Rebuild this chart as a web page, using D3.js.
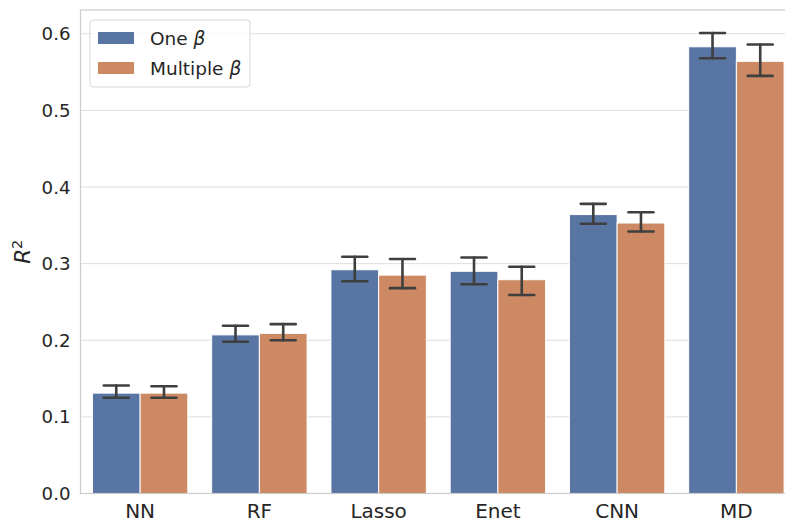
<!DOCTYPE html>
<html>
<head>
<meta charset="utf-8">
<script src="https://cdn.jsdelivr.net/npm/d3@7"></script>
<style>
  html, body { margin: 0; padding: 0; background: #fff; overflow: hidden; }
  svg { display: block; }
  text { font-family: "DejaVu Sans", sans-serif; fill: #262626; }
</style>
</head>
<body>
<svg width="785" height="525"></svg>
<script>
const categories = ["NN", "RF", "Lasso", "Enet", "CNN", "MD"];
const seriesNames = ["One", "Multiple"];
const oneBeta = [0.131, 0.207, 0.292, 0.290, 0.364, 0.583];
const oneLow = [0.125, 0.198, 0.277, 0.273, 0.352, 0.568];
const oneHigh = [0.141, 0.219, 0.309, 0.308, 0.378, 0.601];
const multiBeta = [0.131, 0.209, 0.285, 0.279, 0.353, 0.564];
const multiLow = [0.125, 0.200, 0.268, 0.259, 0.342, 0.545];
const multiHigh = [0.140, 0.221, 0.306, 0.296, 0.367, 0.586];
const yTicks = [0, 0.1, 0.2, 0.3, 0.4, 0.5, 0.6];
const colors = ["#5875a4", "#cc8963"];

// the original figure is cropped on the right, so the axes run past the page edge
const plot = {left: 80.5, right: 796, top: 10, bottom: 493.5};

const svg = d3.select("svg");

const x = d3.scaleBand().domain(categories)
  .range([plot.left, plot.right]).paddingInner(0.2).paddingOuter(0.1);
const xs = d3.scaleBand().domain(seriesNames).range([0, x.bandwidth()]);
const y = d3.scaleLinear().domain([0, 0.631]).range([plot.bottom, plot.top]);

// grid
svg.append("g").selectAll("line").data(yTicks).join("line")
  .attr("x1", plot.left).attr("x2", plot.right)
  .attr("y1", d => y(d)).attr("y2", d => y(d))
  .attr("stroke", "#dedede").attr("stroke-width", 1);

const rows = categories.map((c, i) => [
  {cat: c, s: "One", v: oneBeta[i], lo: oneLow[i], hi: oneHigh[i]},
  {cat: c, s: "Multiple", v: multiBeta[i], lo: multiLow[i], hi: multiHigh[i]}
]).flat();

svg.append("g").selectAll("rect").data(rows).join("rect")
  .attr("x", d => x(d.cat) + xs(d.s))
  .attr("width", xs.bandwidth())
  .attr("y", d => y(d.v))
  .attr("height", d => y(0) - y(d.v))
  .attr("fill", d => colors[seriesNames.indexOf(d.s)])
  .attr("stroke", "#fff").attr("stroke-width", 1);

// error bars
const eb = svg.append("g").attr("stroke", "#3f3f3f").attr("stroke-width", 2.6)
  .attr("stroke-linecap", "round");
rows.forEach(d => {
  const cx = x(d.cat) + xs(d.s) + xs.bandwidth() / 2;
  eb.append("line").attr("x1", cx).attr("x2", cx).attr("y1", y(d.lo)).attr("y2", y(d.hi));
  [d.lo, d.hi].forEach(v => {
    eb.append("line").attr("x1", cx - 12.5).attr("x2", cx + 12.5).attr("y1", y(v)).attr("y2", y(v));
  });
});

// frame
svg.append("rect")
  .attr("x", plot.left).attr("y", plot.top)
  .attr("width", plot.right - plot.left)
  .attr("height", plot.bottom - plot.top)
  .attr("fill", "none").attr("stroke", "#cccccc").attr("stroke-width", 1.2);

// axes labels
svg.append("g").selectAll("text").data(yTicks).join("text")
  .attr("x", plot.left - 10).attr("y", d => y(d))
  .attr("dy", "0.36em").attr("text-anchor", "end")
  .attr("font-size", 18.2)
  .text(d => d3.format(".1f")(d));

svg.append("g").selectAll("text").data(categories).join("text")
  .attr("x", d => x(d) + x.bandwidth() / 2).attr("y", plot.bottom + 24)
  .attr("text-anchor", "middle").attr("font-size", 20)
  .text(d => d);

const yl = svg.append("text")
  .attr("transform", "translate(30," + ((plot.top + plot.bottom) / 2) + ") rotate(-90)")
  .attr("text-anchor", "middle").attr("font-size", 21.5);
yl.append("tspan").attr("font-style", "italic").text("R");
yl.append("tspan").attr("font-size", 14.5).attr("dy", -8.5).text("2");

// legend
const lg = svg.append("g").attr("transform", "translate(90,20)");
lg.append("rect").attr("width", 160).attr("height", 67).attr("rx", 3)
  .attr("fill", "#fff").attr("fill-opacity", 0.8)
  .attr("stroke", "#d6d6d6").attr("stroke-width", 1);
seriesNames.forEach((s, i) => {
  const g = lg.append("g").attr("transform", "translate(8," + (12 + i * 30) + ")");
  g.append("rect").attr("width", 36).attr("height", 12).attr("fill", colors[i]);
  const t = g.append("text").attr("x", 52).attr("y", 6).attr("dy", "0.36em")
    .attr("font-size", 18.5);
  t.append("tspan").text(s + " ");
  t.append("tspan").attr("font-style", "italic").text("β");
});
</script>
</body>
</html>
